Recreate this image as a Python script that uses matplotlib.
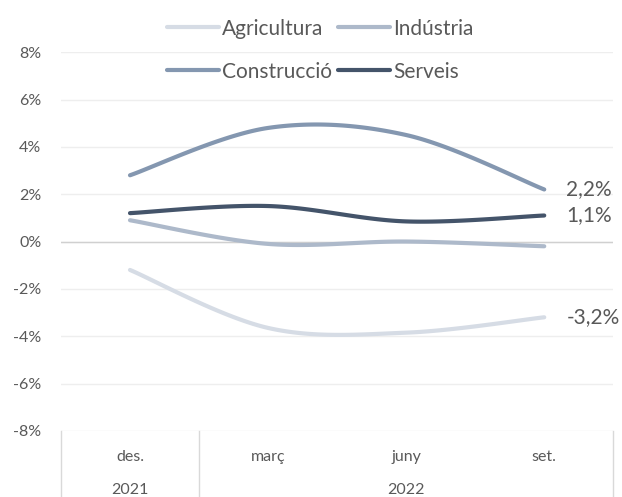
import numpy as np
import matplotlib.pyplot as plt

plt.rcParams['font.family'] = ['Lato', 'DejaVu Sans']

mesos = ['des.', 'març', 'juny', 'set.']
anys = ['2021', '2022']
agricultura = [-1.2, -3.65, -3.85, -3.2]
industria = [0.9, -0.1, 0.0, -0.2]
construccio = [2.8, 4.8, 4.5, 2.2]
serveis = [1.2, 1.5, 0.85, 1.1]

series = [
    ('Agricultura', agricultura, '#D6DCE5'),
    ('Indústria', industria, '#ADB9CA'),
    ('Construcció', construccio, '#8497B0'),
    ('Serveis', serveis, '#44546A'),
]
etiquetes = {'Construcció': '2,2%', 'Serveis': '1,1%', 'Agricultura': '-3,2%'}
gris = '#595959'


def suavitza(y, n=40):
    # corba suau tipus Excel (Bezier amb punts de control a 1/6)
    x = np.arange(len(y), dtype=float)
    pts = np.column_stack([x, y])
    ext = np.vstack([pts[0], pts, pts[-1]])
    out = []
    for i in range(len(pts) - 1):
        p0, p3 = ext[i + 1], ext[i + 2]
        p1 = p0 + (ext[i + 2] - ext[i]) / 6
        p2 = p3 - (ext[i + 3] - ext[i + 1]) / 6
        t = np.linspace(0, 1, n)[:, None]
        seg = (1 - t) ** 3 * p0 + 3 * (1 - t) ** 2 * t * p1 + 3 * (1 - t) * t ** 2 * p2 + t ** 3 * p3
        out.append(seg)
    c = np.vstack(out)
    return c[:, 0], c[:, 1]


fig = plt.figure(figsize=(6.22, 4.97), dpi=100)
ax = fig.add_axes([0.098, 0.133, 0.888, 0.762])

handles = {}
for nom, vals, col in series:
    xs, ys = suavitza(vals)
    h, = ax.plot(xs, ys, color=col, lw=3.0, solid_capstyle='round', label=nom)
    handles[nom] = h
    if nom in etiquetes:
        ax.annotate(etiquetes[nom], (len(vals) - 1, vals[-1]), xytext=(16, 0),
                    textcoords='offset points', va='center', ha='left',
                    fontsize=15, color=gris)

ax.set_xlim(-0.5, len(mesos) - 0.5)
ax.set_ylim(-8, 8)
ax.set_yticks(np.arange(-8, 9, 2))
ax.set_yticklabels([f'{v}%' for v in range(-8, 9, 2)], fontsize=11.5, color=gris)
ax.tick_params(axis='y', length=0, pad=14)
ax.set_xticks([])
for s in ax.spines.values():
    s.set_visible(False)
ax.grid(axis='y', color='#EEEEEE', lw=1)
ax.axhline(0, color='#D0D0D0', lw=1, zorder=1)
ax.set_axisbelow(True)

# eix de categories amb dos nivells
tr = ax.get_xaxis_transform()
for xv in [-0.5, 0.5, len(mesos) - 0.5]:
    ax.plot([xv, xv], [0, -0.3], transform=tr, color='#D9D9D9', lw=1, clip_on=False)
for i, m in enumerate(mesos):
    ax.text(i, -0.068, m, transform=tr, ha='center', va='center', fontsize=11.5, color=gris)
ax.text(0, -0.155, anys[0], transform=tr, ha='center', va='center', fontsize=11.5, color=gris)
ax.text(2, -0.155, anys[1], transform=tr, ha='center', va='center', fontsize=11.5, color=gris)

ordre = ['Agricultura', 'Construcció', 'Indústria', 'Serveis']
fig.legend([handles[k] for k in ordre], ordre, ncol=2, loc='center',
           bbox_to_anchor=(0.515, 0.899), frameon=False, fontsize=15,
           labelcolor=gris, handlelength=2.5, handletextpad=0.15,
           columnspacing=0.3, labelspacing=1.1)

fig.savefig('out.png', dpi=100)
